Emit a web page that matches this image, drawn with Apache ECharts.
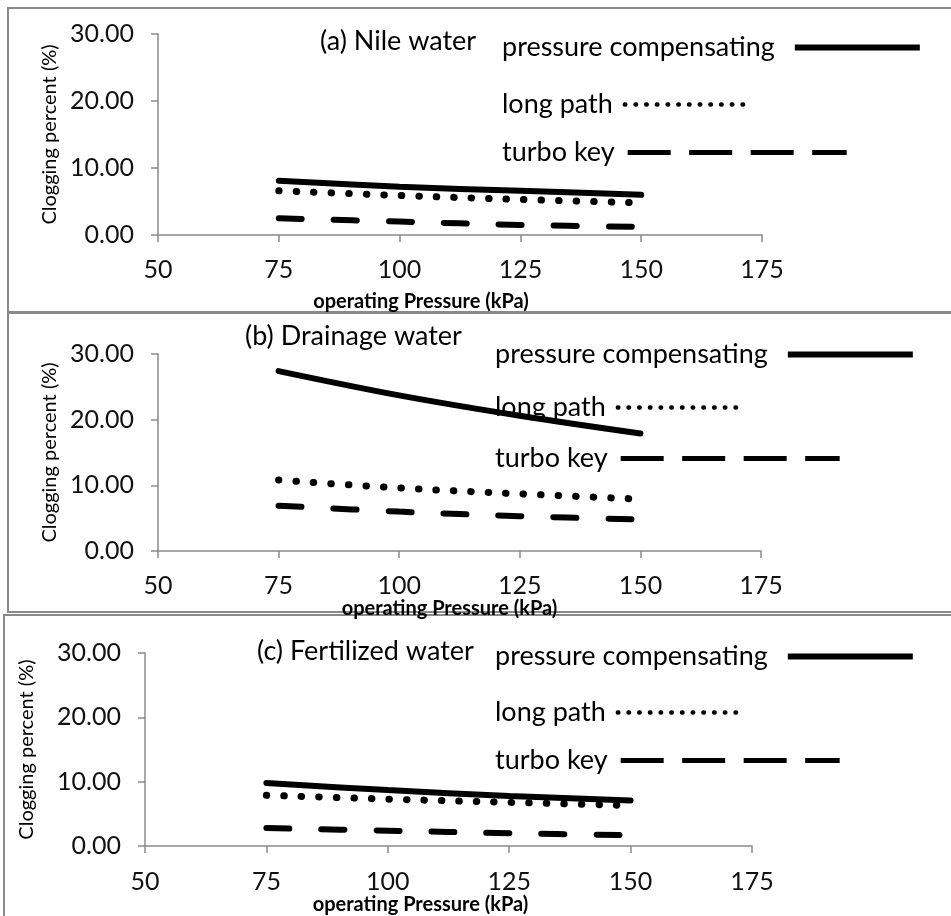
<!DOCTYPE html>
<html>
<head>
<meta charset="utf-8">
<script src="https://cdn.jsdelivr.net/npm/echarts@6/dist/echarts.min.js"></script>
<style>
  html, body { margin: 0; padding: 0; background: #fff; }
  #main { width: 951px; height: 916px; }
</style>
</head>
<body>
<div id="main"></div>
<script>
// operating pressure (kPa)
var pressure = [75, 100, 125, 150];
var xTicks = [50, 75, 100, 125, 150, 175];
var yTicks = [0, 10, 20, 30];
var seriesNames = ['pressure compensating', 'long path', 'turbo key'];
var panelTitles = ['(a) Nile water', '(b) Drainage water', '(c) Fertilized water'];

// clogging percent (%)
var nilePC = [8.1, 7.2, 6.6, 6.0];
var nileLP = [6.6, 5.9, 5.3, 4.8];
var nileTK = [2.5, 2.0, 1.5, 1.2];

var drainPC = [27.4, 23.7, 20.6, 17.9];
var drainLP = [10.8, 9.6, 8.7, 7.9];
var drainTK = [6.9, 6.0, 5.3, 4.8];

var fertPC = [9.8, 8.7, 7.8, 7.1];
var fertLP = [7.9, 7.3, 6.8, 6.3];
var fertTK = [2.8, 2.4, 2.0, 1.7];

var panelData = [
	[nilePC, nileLP, nileTK],
	[drainPC, drainLP, drainTK],
	[fertPC, fertLP, fertTK]
];

var font = 'Lato';
var axisGray = '#8a8a8a';
var bigFont = 27;
var tickFont = 25;
var nameFont = 20;

// layout for each panel
var grids = [
	{left: 158, top: 34, width: 604, height: 201},
	{left: 158, top: 354, width: 603, height: 197},
	{left: 145, top: 653, width: 607, height: 201}
];
var titlePos = [[320, 28], [245, 323], [257, 638]];
var legendPos = [
	[[502, 34], [502, 91], [502, 139]],
	[[495, 341], [495, 394], [495, 445]],
	[[495, 643], [495, 699], [495, 747]]
];
var xNameGap = [57, 41, 44];
var xNameShift = [78, 20, 56];
var xLabelMargin = [22, 22, 23];
var yNameGap = [97, 98, 108];

var lineStyles = [
	{color: '#000', width: 6, type: 'solid', cap: 'round'},
	{color: '#000', width: 7, type: [0.5, 17], cap: 'round'},
	{color: '#000', width: 6, type: [23, 32], cap: 'round'}
];
var legendSamples = [
	{w: 125, gap: 20, line: {width: 6, type: 'solid', cap: 'butt'}},
	{w: 128, gap: 12, line: {width: 4.5, type: [0.5, 10.2], cap: 'round'}},
	{w: 219, gap: 13, line: {width: 5, type: [43, 18.5], cap: 'butt'}}
];

var option = {
	animation: false,
	backgroundColor: '#fff',
	textStyle: {fontFamily: font},
	graphic: [
		{type: 'rect', shape: {x: 8, y: 8, width: 960, height: 304}, style: {fill: 'none', stroke: axisGray, lineWidth: 2}, z: -1},
		{type: 'rect', shape: {x: 8, y: 313, width: 960, height: 299}, style: {fill: 'none', stroke: axisGray, lineWidth: 2}, z: -1},
		{type: 'rect', shape: {x: 4, y: 615, width: 960, height: 320}, style: {fill: 'none', stroke: axisGray, lineWidth: 2}, z: -1}
	],
	title: [],
	legend: [],
	grid: [],
	xAxis: [],
	yAxis: [],
	series: []
};

for (var p = 0; p < 3; p++) {
	option.grid.push(grids[p]);
	option.title.push({
		text: panelTitles[p],
		left: titlePos[p][0],
		top: titlePos[p][1],
		padding: 0,
		textStyle: {fontFamily: font, fontSize: bigFont, fontWeight: 'normal', color: '#000'}
	});
	option.xAxis.push({
		type: 'value',
		gridIndex: p,
		min: xTicks[0],
		max: xTicks[xTicks.length - 1],
		interval: 25,
		name: 'operating Pressure (kPa)',
		nameLocation: 'middle',
		nameGap: xNameGap[p],
		nameTextStyle: {fontFamily: font, fontSize: nameFont, fontWeight: 'bold', color: '#000', padding: [0, xNameShift[p], 0, 0]},
		axisLine: {lineStyle: {color: axisGray, width: 1.5}},
		axisTick: {show: true, length: 7, lineStyle: {color: axisGray, width: 1.5}},
		axisLabel: {fontFamily: font, fontSize: tickFont, color: '#111', margin: xLabelMargin[p]},
		splitLine: {show: false}
	});
	option.yAxis.push({
		type: 'value',
		gridIndex: p,
		min: yTicks[0],
		max: yTicks[yTicks.length - 1],
		interval: 10,
		name: 'Clogging percent (%)',
		nameLocation: 'middle',
		nameGap: yNameGap[p],
		nameRotate: 90,
		nameTextStyle: {fontFamily: font, fontSize: nameFont, color: '#000'},
		axisLine: {show: true, lineStyle: {color: axisGray, width: 1.5}},
		axisTick: {show: true, length: 7, lineStyle: {color: axisGray, width: 1.5}},
		axisLabel: {fontFamily: font, fontSize: tickFont, color: '#111', margin: 24,
			formatter: function (v) { return v.toFixed(2); }},
		splitLine: {show: false}
	});
	for (var s = 0; s < 3; s++) {
		var pts = [];
		for (var i = 0; i < pressure.length; i++) {
			pts.push([pressure[i], panelData[p][s][i]]);
		}
		option.series.push({
			name: seriesNames[s],
			type: 'line',
			xAxisIndex: p,
			yAxisIndex: p,
			data: pts,
			smooth: 0.35,
			symbol: 'none',
			lineStyle: lineStyles[s]
		});
		var ls = legendSamples[s];
		option.legend.push({
			data: [seriesNames[s]],
			left: legendPos[p][s][0],
			top: legendPos[p][s][1],
			padding: 0,
			align: 'right',
			itemWidth: ls.w,
			itemHeight: 4,
			selectedMode: false,
			itemStyle: {opacity: 0},
			lineStyle: {color: '#000', width: ls.line.width, type: ls.line.type, cap: ls.line.cap},
			textStyle: {fontFamily: font, fontSize: bigFont, color: '#000', padding: [0, ls.gap - 5, 0, 0]}
		});
	}
}

var myChart = echarts.init(document.getElementById('main'));
myChart.setOption(option);
</script>
</body>
</html>
